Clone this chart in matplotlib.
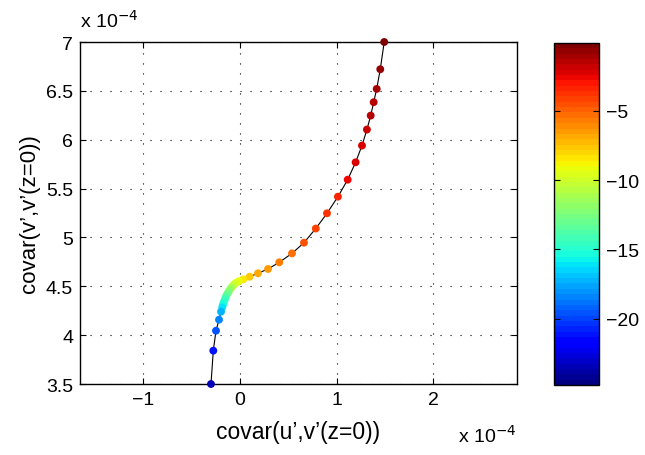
import matplotlib.pyplot as plt
import matplotlib as mpl

plt.rcParams['font.family'] = ['Liberation Sans', 'DejaVu Sans']

# valori in unita' di 1e-4
cov_u = [1.492, 1.451, 1.414, 1.383, 1.352, 1.313, 1.262, 1.196, 1.114, 1.013,
         0.900, 0.784, 0.662, 0.538, 0.406, 0.290, 0.186, 0.100, 0.034, -0.013,
         -0.041, -0.059, -0.074, -0.089, -0.103, -0.116, -0.127, -0.138, -0.147, -0.155,
         -0.163, -0.171, -0.178, -0.184,
         -0.196, -0.217, -0.248, -0.276, -0.300]
cov_v = [7.000, 6.721, 6.520, 6.384, 6.247, 6.104, 5.940, 5.769, 5.591, 5.417,
         5.247, 5.091, 4.946, 4.837, 4.745, 4.677, 4.633, 4.598, 4.571, 4.551,
         4.536, 4.521, 4.505, 4.487, 4.469, 4.449, 4.430, 4.411, 4.390, 4.370,
         4.349, 4.329, 4.306, 4.284,
         4.240, 4.158, 4.045, 3.841, 3.500]
z = [-0.4, -0.8, -1.1, -1.4, -1.6, -1.9, -2.1, -2.4, -2.8, -3.3,
     -3.8, -4.3, -4.7, -5.2, -5.6, -6.3, -7.0, -7.8, -8.5, -9.0,
     -9.5, -10.0, -10.5, -11.0, -11.5, -12.0, -12.5, -13.0, -13.5, -14.0,
     -14.5, -15.0, -15.5, -16.0,
     -17.4, -18.3, -19.4, -21.0, -23.6]

z_min, z_max = -24.8, -0.1
cmap = plt.get_cmap('jet', 64)
norm = mpl.colors.Normalize(vmin=z_min, vmax=z_max)

fig = plt.figure(figsize=(6.45, 4.56), dpi=100)
ax = fig.add_axes([0.124, 0.1557, 0.6775, 0.75])
cax = fig.add_axes([0.859, 0.1535, 0.0698, 0.75])

ax.plot(cov_u, cov_v, color='black', lw=0.8, zorder=2)
ax.scatter(cov_u, cov_v, c=z, cmap=cmap, norm=norm, s=32, edgecolors='none',
           zorder=3, clip_on=False)

ax.set_xlim(-1.655, 2.865)
ax.set_ylim(3.5, 7.0)
ax.set_xticks([-1, 0, 1, 2])
ax.set_yticks([3.5, 4, 4.5, 5, 5.5, 6, 6.5, 7])
ax.set_yticklabels(['3.5', '4', '4.5', '5', '5.5', '6', '6.5', '7'])
ax.grid(True, color='black', linestyle=(0, (1, 8)), lw=0.8)
ax.tick_params(direction='in', length=4, top=True, right=True,
               labelsize=14, width=0.8, pad=5)
for s in ax.spines.values():
    s.set_linewidth(1.0)

ax.set_xlabel('covar(u’,v’(z=0))', fontsize=16.5, labelpad=9)
ax.set_ylabel('covar(v’,v’(z=0))', fontsize=16, labelpad=4)

# moltiplicatori stile MATLAB
fig.text(0.124, 0.93, r'x 10$^{-4}$', fontsize=14, ha='left', va='bottom')
fig.text(0.71, 0.02, r'x 10$^{-4}$', fontsize=14, ha='left', va='bottom')

cb = mpl.colorbar.ColorbarBase(cax, cmap=cmap, norm=norm, orientation='vertical')
cb.set_ticks([-20, -15, -10, -5])
cb.ax.tick_params(direction='in', length=4, left=True, right=True,
                  labelsize=14, width=0.8, pad=5)
cb.outline.set_linewidth(1.0)

plt.savefig('out.png', dpi=100)
